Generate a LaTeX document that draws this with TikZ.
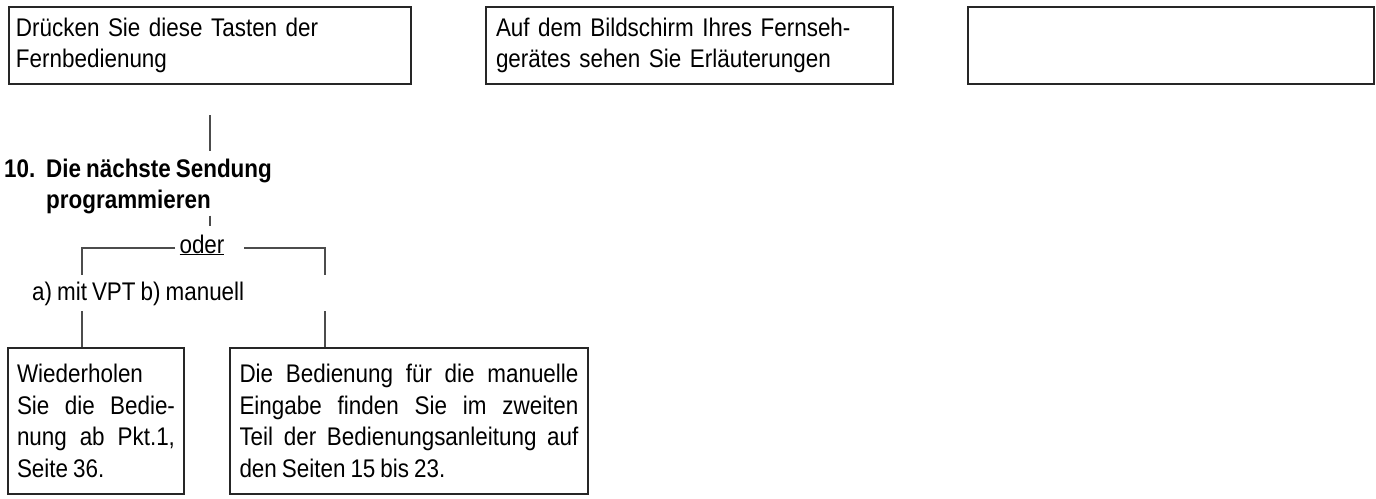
\documentclass[tikz,border=0pt]{standalone}
\usepackage{fontspec}
\newfontfamily\tafel{Liberation Sans}[FakeStretch=0.88, WordSpace=0.8]

\begin{document}
\begin{tikzpicture}[x=1pt, y=-1pt,
    every node/.style={font=\tafel\fontsize{25.5}{31.5}\selectfont, inner sep=0pt},
    box/.style={draw=black!85, line width=2pt, anchor=north west, inner ysep=0pt,
        execute at begin node={\tolerance=9999\relax}},
    bold/.style={font=\tafel\bfseries\fontsize{25.5}{31.5}\selectfont, anchor=base west},
    link/.style={draw=black!70, line width=1.6pt}]
    \useasboundingbox (0,0) rectangle (1376,498);

    % top row
    \node[box, align=left, inner xsep=7pt, text width=388pt, minimum height=77pt] (keys) at (8,6) {Drücken Sie diese Tasten der\\Fernbedienung};
    \node[box, align=left, inner xsep=10pt, text width=387pt, minimum height=77pt] (screen) at (485,6) {Auf dem Bildschirm Ihres Fernseh-\\gerätes sehen Sie Erläuterungen};
    \node[box, minimum width=406pt, minimum height=77pt] (empty) at (967,6) {};

    % step 10
    \node[bold] (num) at (4,177) {10.};
    \node[bold] (head) at (46,177) {Die nächste Sendung};
    \node[bold] (headb) at (46,208) {programmieren};
    \node[anchor=base] (oder) at (202,253) {\underline{oder}};
    \node[anchor=base west] (opt) at (32,300) {a) mit VPT b) manuell};

    \coordinate (forkL) at (82,248);
    \coordinate (forkR) at (325,248);
    \coordinate (gapL) at (175,248);
    \coordinate (gapR) at (244,248);

    % bottom row
    \node[box, align=justify, inner xsep=9pt, text width=158pt, minimum height=146pt] (repeat) at (7,347) {Wiederholen\\Sie die Bedie-\linebreak nung ab Pkt.1,\linebreak Seite 36.};
    \node[box, align=justify, inner xsep=9.5pt, text width=339pt, minimum height=146pt] (manual) at (229,347) {Die Bedienung für die manuelle\linebreak Eingabe finden Sie im zweiten\linebreak Teil der Bedienungsanleitung auf\linebreak den Seiten 15 bis 23.};

    % connectors
    \draw[link, shorten <=30pt, shorten >=7pt] (keys.south) -- (keys.south |- head.north);
    \draw[link, shorten <=2pt, shorten >=8pt] (keys.south |- headb.south) -- (keys.south |- oder.north);
    \draw[link, shorten >=6pt] (gapL) -- (forkL) -- (forkL |- opt.north);
    \draw[link, shorten >=6pt] (gapR) -- (forkR) -- (forkR |- opt.north);
    \draw[link, shorten <=6pt] (forkL |- opt.south) -- (forkL |- repeat.north);
    \draw[link, shorten <=6pt] (forkR |- opt.south) -- (forkR |- manual.north);
\end{tikzpicture}
\end{document}
